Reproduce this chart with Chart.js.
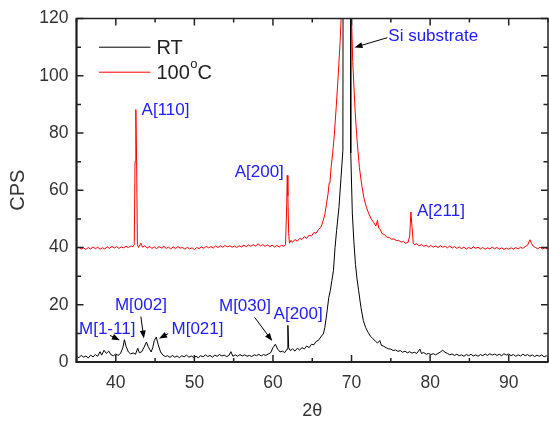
<!DOCTYPE html>
<html><head><meta charset="utf-8">
<script src="https://cdn.jsdelivr.net/npm/chart.js@4.4.0/dist/chart.umd.min.js"></script>
<style>html,body{margin:0;padding:0;background:#fff;}canvas{display:block;}</style>
</head><body>
<canvas id="c" width="549" height="424"></canvas>
<script>
// ---- data ----
const xTickValues = [40, 50, 60, 70, 80, 90];
const yTickValues = [0, 20, 40, 60, 80, 100, 120];
const seriesLabels = ['RT', '100°C'];

const rtPoints = [
[35.0,2.0],[35.3,1.5],[35.6,2.3],[35.9,1.7],[36.2,2.1],[36.5,1.4],[36.8,2.4],[37.1,1.8],[37.4,2.6],[37.7,2.0],
[38.0,3.6],[38.2,2.4],[38.5,4.1],[38.8,3.0],[39.1,3.8],[39.4,2.5],[39.7,2.2],[40.0,2.8],[40.3,2.3],[40.6,3.0],
[40.9,5.0],[41.1,7.8],[41.3,5.5],[41.6,3.5],[41.9,2.8],[42.2,3.2],[42.5,2.7],[42.8,4.8],[43.0,3.2],[43.3,3.6],
[43.6,5.2],[43.9,7.0],[44.1,5.5],[44.3,4.5],[44.5,3.5],[44.7,5.0],[44.9,7.5],[45.15,8.7],[45.4,6.0],[45.7,3.5],
[46.0,2.4],[46.3,1.9],[46.6,2.2],[46.9,1.6],[47.2,2.3],[47.5,1.7],[47.8,2.1],[48.1,1.5],[48.4,2.2],[48.7,1.8],
[49.0,2.4],[49.3,1.7],[49.6,2.1],[49.9,1.6],[50.2,2.0],[50.5,1.5],[50.8,2.2],[51.1,1.8],[51.4,2.5],[51.7,1.9],
[52.0,2.3],[52.3,1.7],[52.6,2.4],[52.9,2.0],[53.2,2.6],[53.5,2.1],[53.8,2.4],[54.1,1.9],[54.4,2.3],[54.65,3.6],
[54.9,2.0],[55.2,2.5],[55.5,2.0],[55.8,2.6],[56.1,2.1],[56.4,2.5],[56.7,2.0],[57.0,2.3],[57.3,1.9],[57.6,2.5],
[57.9,2.2],[58.2,2.7],[58.5,2.1],[58.8,2.6],[59.1,2.3],[59.4,2.8],[59.7,3.2],[60.0,5.0],[60.3,6.2],[60.6,4.5],
[60.9,3.5],[61.2,3.8],[61.5,3.3],[61.8,4.5],[61.9,12.8],[62.0,5.0],[62.2,4.0],[62.5,4.6],[62.8,3.8],[63.1,4.8],
[63.4,4.2],[63.7,5.0],[64.0,4.6],[64.3,5.6],[64.6,5.0],[64.9,6.2],[65.2,6.0],[65.5,7.2],[65.8,7.6],[66.1,8.8],
[66.4,9.8],[66.6,12.0],[66.9,18.0],[67.1,22.5],[67.3,25.0],[67.5,28.5],[67.7,32.0],[67.9,40.0],[68.1,46.0],[68.4,54.0],
[68.65,64.0],[68.9,74.0],[68.95,200],[69.4,2000],[69.85,200],[69.9,73],[70.1,52],[70.3,42],[70.5,34],[70.7,29],
[70.9,25],[71.2,19],[71.5,14.5],[71.8,12.0],[72.1,10.4],[72.4,9.0],[72.7,8.2],[73.0,7.4],[73.3,6.6],[73.6,7.5],
[73.8,5.8],[74.1,5.5],[74.4,5.0],[74.7,4.6],[75.0,4.5],[75.3,4.0],[75.6,4.2],[75.9,3.7],[76.2,4.0],[76.5,3.4],
[76.8,3.8],[77.1,3.2],[77.4,3.6],[77.7,3.1],[78.0,3.4],[78.3,3.0],[78.7,4.5],[78.9,3.0],[79.2,3.3],[79.5,2.7],
[79.8,3.0],[80.1,2.6],[80.4,2.9],[80.7,2.5],[81.0,3.0],[81.3,3.5],[81.6,4.1],[81.9,3.4],[82.2,3.0],[82.5,2.5],
[82.8,2.8],[83.1,2.3],[83.4,2.7],[83.7,2.2],[84.0,2.5],[84.3,2.0],[84.6,2.6],[84.9,2.2],[85.2,2.7],[85.5,2.1],
[85.8,2.5],[86.1,2.0],[86.4,2.6],[86.7,2.2],[87.0,2.8],[87.3,2.3],[87.6,2.9],[87.9,2.4],[88.2,2.8],[88.5,2.3],
[88.8,2.7],[89.1,2.2],[89.4,2.9],[89.7,2.4],[90.0,2.8],[90.3,2.2],[90.6,2.6],[90.9,2.0],[91.2,2.5],[91.5,2.1],
[91.8,2.7],[92.1,2.2],[92.4,2.6],[92.7,2.0],[93.0,2.5],[93.3,1.9],[93.6,2.4],[93.9,2.0],[94.2,2.5],[94.5,1.8],
[94.8,2.2],[95.0,1.6]
];

const htPoints = [
[35.0,39.6],[35.3,40.1],[35.6,39.4],[35.9,39.9],[36.2,39.3],[36.5,40.0],[36.8,39.5],[37.1,40.2],[37.4,39.6],[37.7,40.1],
[38.0,39.4],[38.3,39.9],[38.6,39.5],[38.9,40.2],[39.2,39.7],[39.5,40.4],[39.8,39.8],[40.1,40.3],[40.4,39.7],[40.7,40.2],
[41.0,39.9],[41.3,40.4],[41.6,40.0],[41.9,40.5],[42.2,40.3],[42.35,41.0],[42.45,70.0],[42.55,88.2],[42.65,70.0],[42.75,41.0],
[42.9,40.0],[43.2,41.5],[43.4,40.1],[43.7,40.6],[44.0,39.8],[44.3,40.4],[44.6,39.7],[44.9,40.2],[45.2,39.6],[45.5,40.3],
[45.8,39.8],[46.1,40.4],[46.4,39.7],[46.7,40.1],[47.0,39.5],[47.3,40.2],[47.6,39.6],[47.9,40.3],[48.2,39.8],[48.5,40.0],
[48.8,39.4],[49.1,40.1],[49.4,39.5],[49.7,39.9],[50.0,39.3],[50.3,40.0],[50.6,39.6],[50.9,40.2],[51.2,39.7],[51.5,40.4],
[51.8,39.9],[52.1,40.3],[52.4,39.8],[52.7,40.5],[53.0,40.0],[53.3,40.6],[53.6,40.1],[53.9,40.7],[54.2,40.2],[54.5,40.6],
[54.8,40.1],[55.1,40.5],[55.4,40.0],[55.7,40.6],[56.0,40.2],[56.3,40.8],[56.6,40.3],[56.9,40.9],[57.2,40.4],[57.5,41.0],
[57.8,40.5],[58.1,41.3],[58.4,40.6],[58.7,41.0],[59.0,40.4],[59.3,40.9],[59.6,40.3],[59.9,40.8],[60.2,40.2],[60.5,40.7],
[60.8,40.2],[61.1,40.8],[61.4,40.4],[61.6,41.0],[61.75,55.0],[61.82,65.2],[61.9,58.0],[62.0,45.0],[62.1,41.5],[62.3,42.5],
[62.5,41.8],[62.8,42.8],[63.1,42.2],[63.4,43.2],[63.7,42.8],[64.0,43.8],[64.3,43.2],[64.6,44.3],[64.9,44.0],[65.2,45.2],
[65.5,45.0],[65.8,46.3],[66.1,47.0],[66.4,49.5],[66.6,51.5],[66.8,55.0],[67.0,58.5],[67.15,62.5],[67.25,62.8],[67.4,68.0],
[67.6,73.0],[67.8,79.0],[68.05,89.0],[68.3,100.0],[68.55,112.0],[68.75,125.0],[69.2,500.0],[69.95,125.0],[70.15,105.0],[70.45,88.0],
[70.7,77.5],[71.0,68.0],[71.3,61.7],[71.6,57.0],[71.9,54.0],[72.2,51.8],[72.5,50.0],[72.8,48.8],[73.1,47.5],[73.3,49.5],
[73.45,46.8],[73.6,46.5],[73.9,44.8],[74.2,44.5],[74.5,43.6],[74.8,43.5],[75.1,42.9],[75.4,43.0],[75.7,42.4],[76.0,42.5],
[76.3,41.9],[76.6,42.1],[76.9,41.5],[77.2,41.8],[77.4,44.0],[77.55,52.4],[77.7,47.0],[77.85,41.5],[78.0,41.0],[78.3,41.3],
[78.6,40.6],[78.9,41.0],[79.2,40.4],[79.5,40.8],[79.8,40.2],[80.1,40.7],[80.4,40.1],[80.7,40.5],[81.0,40.0],[81.3,40.6],
[81.6,40.1],[81.9,40.4],[82.2,39.9],[82.5,40.5],[82.8,39.8],[83.1,40.3],[83.4,39.7],[83.7,40.2],[84.0,39.6],[84.3,40.1],
[84.6,39.5],[84.9,40.0],[85.2,39.6],[85.5,40.2],[85.8,39.7],[86.1,40.1],[86.4,39.5],[86.7,40.0],[87.0,39.4],[87.3,39.9],
[87.6,39.5],[87.9,40.1],[88.2,39.6],[88.5,40.0],[88.8,39.4],[89.1,39.9],[89.4,39.3],[89.7,39.8],[90.0,39.4],[90.3,39.9],
[90.6,39.4],[90.9,40.0],[91.2,39.5],[91.5,40.1],[91.8,39.7],[92.1,40.3],[92.4,40.8],[92.7,42.7],[92.9,41.5],[93.1,40.5],
[93.4,40.0],[93.7,39.6],[94.0,40.1],[94.3,39.5],[94.6,39.9],[95.0,39.4]
];

// peak labels (text, anchor in data units: left edge / baseline)
const peakLabels = [
  ['A[110]', 43.28, 86.2],
  ['A[200]', 55.13, 64.5],
  ['Si substrate', 74.68, 112.2],
  ['A[211]', 78.33, 51.0],
  ['M[1-11]', 35.32, 9.9],
  ['M[002]', 39.89, 18.2],
  ['M[021]', 47.09, 9.7],
  ['M[030]', 53.13, 17.9],
  ['A[200]', 60.08, 15.1]
];
// arrows: from (x1,y1) to tip (x2,y2), data units
const arrows = [
  [74.56, 113.3, 70.37, 109.9],
  [39.25, 9.3, 40.52, 7.6],
  [43.19, 15.9, 43.57, 8.2],
  [46.66, 9.9, 45.51, 8.2],
  [57.67, 15.6, 59.91, 7.3]
];

const FONT = "'Liberation Sans', Arial, sans-serif";
const LABEL_BLUE = '#2020ff';
const AXIS_COLOR = '#222';

const decorPlugin = {
  id: 'decor',
  afterDatasetsDraw(chart) {
    const {ctx, chartArea: a, scales: {x, y}} = chart;
    ctx.save();
    // frame
    ctx.strokeStyle = AXIS_COLOR;
    ctx.lineWidth = 1.5;
    ctx.strokeRect(a.left, a.top, a.right - a.left, a.bottom - a.top);
    ctx.lineWidth = 2;
    ctx.beginPath();
    ctx.moveTo(a.left, a.top); ctx.lineTo(a.left, a.bottom); ctx.lineTo(a.right, a.bottom);
    ctx.stroke();
    // inward ticks
    ctx.lineWidth = 1.5;
    ctx.beginPath();
    for (let v = x.min; v <= x.max + 1e-9; v += 5) {
      const px = x.getPixelForValue(v);
      const major = xTickValues.includes(v);
      const len = major ? 7 : 4;
      ctx.moveTo(px, a.bottom); ctx.lineTo(px, a.bottom - len);
      ctx.moveTo(px, a.top); ctx.lineTo(px, a.top + len);
    }
    for (let v = y.min; v <= y.max + 1e-9; v += 10) {
      const py = y.getPixelForValue(v);
      const major = yTickValues.includes(v);
      const len = major ? 7 : 4.5;
      ctx.moveTo(a.left, py); ctx.lineTo(a.left + len, py);
      ctx.moveTo(a.right, py); ctx.lineTo(a.right - len, py);
    }
    ctx.stroke();

    // peak labels
    ctx.fillStyle = LABEL_BLUE;
    ctx.font = '17px ' + FONT;
    ctx.textAlign = 'left';
    ctx.textBaseline = 'alphabetic';
    peakLabels.forEach(([t, vx, vy]) => {
      ctx.fillText(t, x.getPixelForValue(vx), y.getPixelForValue(vy));
    });

    // arrows
    ctx.strokeStyle = '#000';
    ctx.fillStyle = '#000';
    ctx.lineWidth = 1;
    arrows.forEach(([x1, y1, x2, y2]) => {
      const p1x = x.getPixelForValue(x1), p1y = y.getPixelForValue(y1);
      const p2x = x.getPixelForValue(x2), p2y = y.getPixelForValue(y2);
      const ang = Math.atan2(p2y - p1y, p2x - p1x);
      const L = 8, W = 3;
      ctx.beginPath();
      ctx.moveTo(p1x, p1y);
      ctx.lineTo(p2x - Math.cos(ang) * L * 0.8, p2y - Math.sin(ang) * L * 0.8);
      ctx.stroke();
      ctx.beginPath();
      ctx.moveTo(p2x, p2y);
      ctx.lineTo(p2x - Math.cos(ang) * L + Math.sin(ang) * W, p2y - Math.sin(ang) * L - Math.cos(ang) * W);
      ctx.lineTo(p2x - Math.cos(ang) * L - Math.sin(ang) * W, p2y - Math.sin(ang) * L + Math.cos(ang) * W);
      ctx.closePath();
      ctx.fill();
    });

    // legend
    const ds = chart.data.datasets;
    const lx0 = a.left + 22.5, lx1 = a.left + 74, tx = a.left + 80;
    const rows = [a.top + 28.7, a.top + 53.7];
    ds.forEach((d, i) => {
      ctx.strokeStyle = d.borderColor;
      ctx.lineWidth = 1;
      ctx.beginPath();
      ctx.moveTo(lx0, rows[i]); ctx.lineTo(lx1, rows[i]);
      ctx.stroke();
      ctx.fillStyle = '#222';
      ctx.textBaseline = 'alphabetic';
      ctx.font = '20px ' + FONT;
      const base = rows[i] + 7;
      const label = d.label;
      if (label.includes('°')) {
        const [pre, post] = label.split('°');
        ctx.fillText(pre, tx, base);
        let w = ctx.measureText(pre).width;
        ctx.font = '13px ' + FONT;
        ctx.fillText('o', tx + w + 0.5, base - 11);
        w += ctx.measureText('o').width + 0.5;
        ctx.font = '20px ' + FONT;
        ctx.fillText(post, tx + w, base);
      } else {
        ctx.fillText(label, tx, base);
      }
    });
    ctx.restore();
  }
};

new Chart(document.getElementById('c').getContext('2d'), {
  type: 'line',
  data: {
    datasets: [
      {label: seriesLabels[0], data: rtPoints.map(p => ({x: p[0], y: p[1]})),
       borderColor: '#000000', borderWidth: 1, pointRadius: 0, tension: 0},
      {label: seriesLabels[1], data: htPoints.map(p => ({x: p[0], y: p[1]})),
       borderColor: '#ff0000', borderWidth: 1, pointRadius: 0, tension: 0}
    ]
  },
  options: {
    responsive: false,
    animation: false,
    devicePixelRatio: 1,
    layout: {padding: {top: 14, right: 1, left: 0, bottom: 0}},
    plugins: {legend: {display: false}, tooltip: {enabled: false}},
    scales: {
      x: {
        type: 'linear', min: 35, max: 95,
        afterBuildTicks: s => { s.ticks = xTickValues.map(v => ({value: v})); },
        afterFit: s => { s.height = 62; },
        grid: {display: false, drawTicks: false}, border: {display: false},
        ticks: {font: {family: FONT, size: 17.5}, color: '#333', padding: 11, maxRotation: 0, autoSkip: false},
        title: {display: true, text: '2θ', font: {family: FONT, size: 18}, color: '#333', padding: {top: 0, bottom: 2}}
      },
      y: {
        min: 0, max: 120,
        afterBuildTicks: s => { s.ticks = yTickValues.map(v => ({value: v})); },
        afterFit: s => { s.width = 76.5; },
        grid: {display: false, drawTicks: false}, border: {display: false},
        ticks: {font: {family: FONT, size: 17.5}, color: '#333', padding: 8, autoSkip: false},
        title: {display: true, text: 'CPS', font: {family: FONT, size: 20}, color: '#333', padding: {top: 6, bottom: 0}}
      }
    }
  },
  plugins: [decorPlugin]
});
</script>
</body></html>
